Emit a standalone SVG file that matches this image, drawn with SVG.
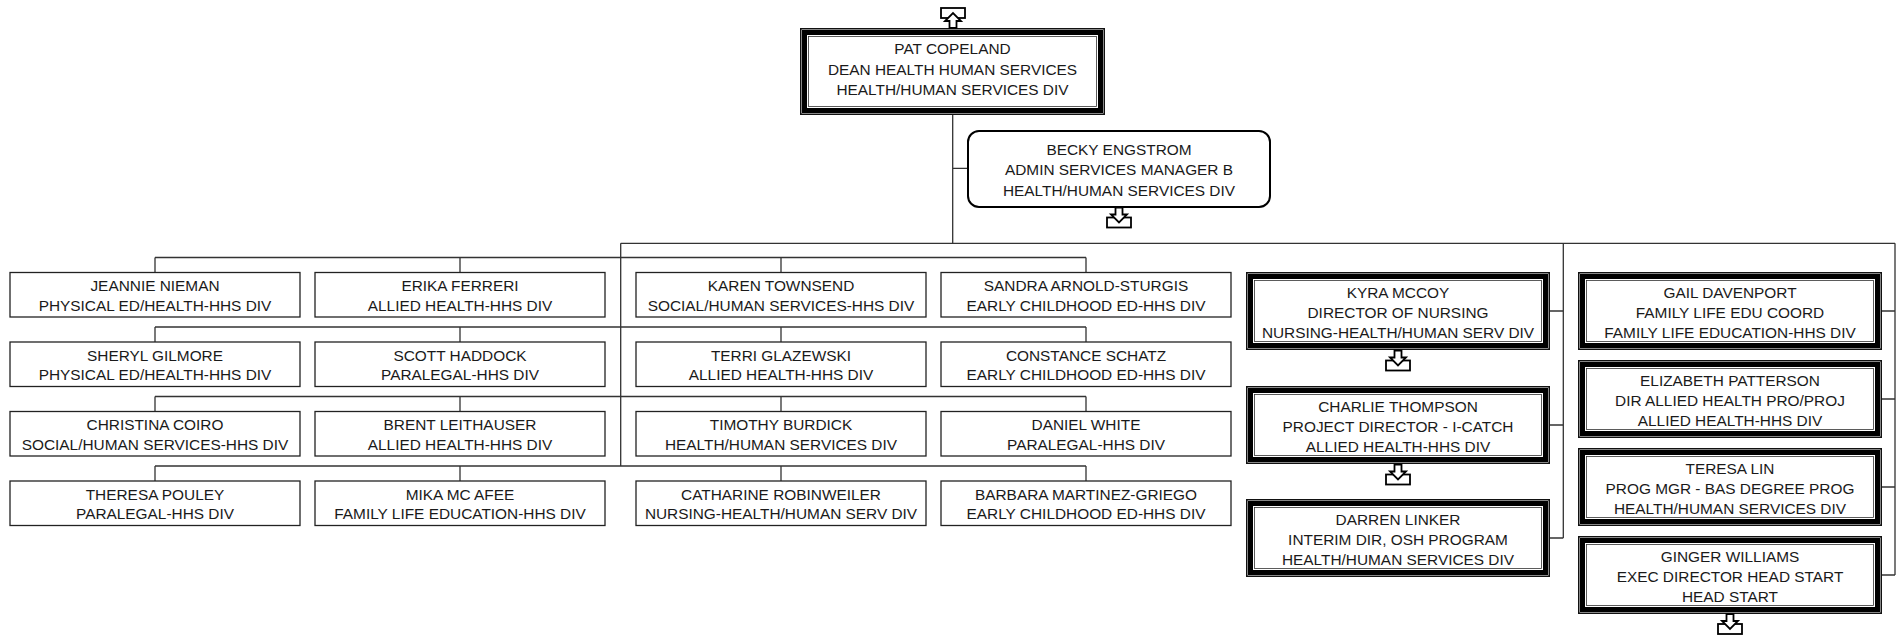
<svg xmlns="http://www.w3.org/2000/svg" width="1902" height="635" viewBox="0 0 1902 635">
<defs>
<style>
text{font-family:"Liberation Sans",Arial,sans-serif;font-size:15.4px;fill:#1a1a1a;text-anchor:middle}
.sb{fill:#fff;stroke:#222;stroke-width:1.3}
.o{fill:#fff;stroke:#111;stroke-width:1.5}
.t{fill:none;stroke:#000;stroke-width:5}
.i{fill:none;stroke:#333;stroke-width:0.8}
.rb{fill:#fff;stroke:#000;stroke-width:2}
.c{fill:none;stroke:#333;stroke-width:1.3}
.ic{fill:#fff;stroke:#000;stroke-width:1.8;stroke-linejoin:miter}
</style>
<g id="downIcon">
<rect class="ic" x="-12" y="10" width="24" height="10"/>
<polygon class="ic" points="-3.5,0 3.5,0 3.5,7 8,7 0,15 -8,7 -3.5,7"/>
</g>
<g id="upIcon">
<rect class="ic" x="-12" y="0" width="24" height="10"/>
<polygon class="ic" points="-3.5,20 3.5,20 3.5,13 8,13 0,5 -8,13 -3.5,13"/>
</g>
</defs>
<rect width="1902" height="635" fill="#fff"/>

<g id="connectors">
<path class="c" d="M952.7,115 V243.3 M952.7,168.3 H967.3 M620.7,243.3 H1895 M620.7,243.3 V466"/>
<path class="c" d="M155,257.5 H1086 M155,257.5 V272.5 M460,257.5 V272.5 M781,257.5 V272.5 M1086,257.5 V272.5"/>
<path class="c" d="M155,327 H1086 M155,327 V342 M460,327 V342 M781,327 V342 M1086,327 V342"/>
<path class="c" d="M155,396.5 H1086 M155,396.5 V411.5 M460,396.5 V411.5 M781,396.5 V411.5 M1086,396.5 V411.5"/>
<path class="c" d="M155,466 H1086 M155,466 V481 M460,466 V481 M781,466 V481 M1086,466 V481"/>
<path class="c" d="M1563.3,243.3 V538 M1550,311 H1563.3 M1550,425 H1563.3 M1550,538 H1563.3"/>
<path class="c" d="M1895,243.3 V575 M1882,311 H1895 M1882,399 H1895 M1882,487 H1895 M1882,575 H1895"/>
</g>

<g id="pat">
<rect class="o" x="800.75" y="28.75" width="303.5" height="85.5"/>
<rect class="t" x="804.5" y="32.5" width="296" height="78"/>
<rect class="i" x="808.5" y="36.5" width="288" height="70"/>
<text x="952.5" y="54">PAT COPELAND</text>
<text x="952.5" y="74.5">DEAN HEALTH HUMAN SERVICES</text>
<text x="952.5" y="95">HEALTH/HUMAN SERVICES DIV</text>
<use href="#upIcon" x="953" y="8"/>
</g>

<g id="becky">
<rect class="rb" x="968" y="131" width="302" height="76" rx="11"/>
<text x="1119" y="154.5">BECKY ENGSTROM</text>
<text x="1119" y="175">ADMIN SERVICES MANAGER B</text>
<text x="1119" y="195.5">HEALTH/HUMAN SERVICES DIV</text>
<use href="#downIcon" x="1119" y="207.5"/>
</g>

<g id="jeannie"><rect class="sb" x="10" y="272.5" width="290" height="44.5"/><text x="155" y="291">JEANNIE NIEMAN</text><text x="155" y="310.5">PHYSICAL ED/HEALTH-HHS DIV</text></g>
<g id="erika"><rect class="sb" x="315" y="272.5" width="290" height="44.5"/><text x="460" y="291">ERIKA FERRERI</text><text x="460" y="310.5">ALLIED HEALTH-HHS DIV</text></g>
<g id="karen"><rect class="sb" x="636" y="272.5" width="290" height="44.5"/><text x="781" y="291">KAREN TOWNSEND</text><text x="781" y="310.5">SOCIAL/HUMAN SERVICES-HHS DIV</text></g>
<g id="sandra"><rect class="sb" x="941" y="272.5" width="290" height="44.5"/><text x="1086" y="291">SANDRA ARNOLD-STURGIS</text><text x="1086" y="310.5">EARLY CHILDHOOD ED-HHS DIV</text></g>

<g id="sheryl"><rect class="sb" x="10" y="342" width="290" height="44.5"/><text x="155" y="360.5">SHERYL GILMORE</text><text x="155" y="380">PHYSICAL ED/HEALTH-HHS DIV</text></g>
<g id="scott"><rect class="sb" x="315" y="342" width="290" height="44.5"/><text x="460" y="360.5">SCOTT HADDOCK</text><text x="460" y="380">PARALEGAL-HHS DIV</text></g>
<g id="terri"><rect class="sb" x="636" y="342" width="290" height="44.5"/><text x="781" y="360.5">TERRI GLAZEWSKI</text><text x="781" y="380">ALLIED HEALTH-HHS DIV</text></g>
<g id="constance"><rect class="sb" x="941" y="342" width="290" height="44.5"/><text x="1086" y="360.5">CONSTANCE SCHATZ</text><text x="1086" y="380">EARLY CHILDHOOD ED-HHS DIV</text></g>

<g id="christina"><rect class="sb" x="10" y="411.5" width="290" height="44.5"/><text x="155" y="430">CHRISTINA COIRO</text><text x="155" y="449.5">SOCIAL/HUMAN SERVICES-HHS DIV</text></g>
<g id="brent"><rect class="sb" x="315" y="411.5" width="290" height="44.5"/><text x="460" y="430">BRENT LEITHAUSER</text><text x="460" y="449.5">ALLIED HEALTH-HHS DIV</text></g>
<g id="timothy"><rect class="sb" x="636" y="411.5" width="290" height="44.5"/><text x="781" y="430">TIMOTHY BURDICK</text><text x="781" y="449.5">HEALTH/HUMAN SERVICES DIV</text></g>
<g id="daniel"><rect class="sb" x="941" y="411.5" width="290" height="44.5"/><text x="1086" y="430">DANIEL WHITE</text><text x="1086" y="449.5">PARALEGAL-HHS DIV</text></g>

<g id="theresa"><rect class="sb" x="10" y="481" width="290" height="44.5"/><text x="155" y="499.5">THERESA POULEY</text><text x="155" y="519">PARALEGAL-HHS DIV</text></g>
<g id="mika"><rect class="sb" x="315" y="481" width="290" height="44.5"/><text x="460" y="499.5">MIKA MC AFEE</text><text x="460" y="519">FAMILY LIFE EDUCATION-HHS DIV</text></g>
<g id="catharine"><rect class="sb" x="636" y="481" width="290" height="44.5"/><text x="781" y="499.5">CATHARINE ROBINWEILER</text><text x="781" y="519">NURSING-HEALTH/HUMAN SERV DIV</text></g>
<g id="barbara"><rect class="sb" x="941" y="481" width="290" height="44.5"/><text x="1086" y="499.5">BARBARA MARTINEZ-GRIEGO</text><text x="1086" y="519">EARLY CHILDHOOD ED-HHS DIV</text></g>

<g id="kyra">
<rect class="o" x="1246.75" y="272.75" width="302.5" height="76.5"/>
<rect class="t" x="1250.5" y="276.5" width="295" height="69"/>
<rect class="i" x="1254.5" y="280.5" width="287" height="61"/>
<text x="1398" y="297.5">KYRA MCCOY</text>
<text x="1398" y="317.5">DIRECTOR OF NURSING</text>
<text x="1398" y="337.5">NURSING-HEALTH/HUMAN SERV DIV</text>
<use href="#downIcon" x="1398" y="350.5"/>
</g>
<g id="charlie">
<rect class="o" x="1246.75" y="386.75" width="302.5" height="76.5"/>
<rect class="t" x="1250.5" y="390.5" width="295" height="69"/>
<rect class="i" x="1254.5" y="394.5" width="287" height="61"/>
<text x="1398" y="411.5">CHARLIE THOMPSON</text>
<text x="1398" y="431.5">PROJECT DIRECTOR - I-CATCH</text>
<text x="1398" y="451.5">ALLIED HEALTH-HHS DIV</text>
<use href="#downIcon" x="1398" y="464.5"/>
</g>
<g id="darren">
<rect class="o" x="1246.75" y="499.75" width="302.5" height="76.5"/>
<rect class="t" x="1250.5" y="503.5" width="295" height="69"/>
<rect class="i" x="1254.5" y="507.5" width="287" height="61"/>
<text x="1398" y="524.5">DARREN LINKER</text>
<text x="1398" y="544.5">INTERIM DIR, OSH PROGRAM</text>
<text x="1398" y="564.5">HEALTH/HUMAN SERVICES DIV</text>
</g>

<g id="gail">
<rect class="o" x="1578.75" y="272.75" width="302.5" height="76.5"/>
<rect class="t" x="1582.5" y="276.5" width="295" height="69"/>
<rect class="i" x="1586.5" y="280.5" width="287" height="61"/>
<text x="1730" y="297.5">GAIL DAVENPORT</text>
<text x="1730" y="317.5">FAMILY LIFE EDU COORD</text>
<text x="1730" y="337.5">FAMILY LIFE EDUCATION-HHS DIV</text>
</g>
<g id="elizabeth">
<rect class="o" x="1578.75" y="360.75" width="302.5" height="76.5"/>
<rect class="t" x="1582.5" y="364.5" width="295" height="69"/>
<rect class="i" x="1586.5" y="368.5" width="287" height="61"/>
<text x="1730" y="385.5">ELIZABETH PATTERSON</text>
<text x="1730" y="405.5">DIR ALLIED HEALTH PRO/PROJ</text>
<text x="1730" y="425.5">ALLIED HEALTH-HHS DIV</text>
</g>
<g id="teresa">
<rect class="o" x="1578.75" y="448.75" width="302.5" height="76.5"/>
<rect class="t" x="1582.5" y="452.5" width="295" height="69"/>
<rect class="i" x="1586.5" y="456.5" width="287" height="61"/>
<text x="1730" y="473.5">TERESA LIN</text>
<text x="1730" y="493.5">PROG MGR - BAS DEGREE PROG</text>
<text x="1730" y="513.5">HEALTH/HUMAN SERVICES DIV</text>
</g>
<g id="ginger">
<rect class="o" x="1578.75" y="536.75" width="302.5" height="76.5"/>
<rect class="t" x="1582.5" y="540.5" width="295" height="69"/>
<rect class="i" x="1586.5" y="544.5" width="287" height="61"/>
<text x="1730" y="561.5">GINGER WILLIAMS</text>
<text x="1730" y="581.5">EXEC DIRECTOR HEAD START</text>
<text x="1730" y="601.5">HEAD START</text>
<use href="#downIcon" x="1730" y="614"/>
</g>
</svg>
